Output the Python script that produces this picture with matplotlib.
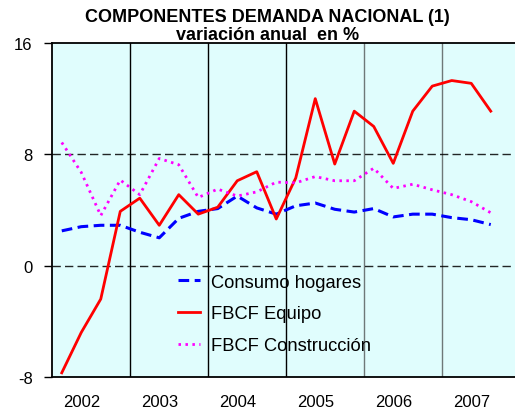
import matplotlib
matplotlib.use("Agg")
import matplotlib.pyplot as plt

plt.rcParams['font.family'] = ['Liberation Sans', 'DejaVu Sans']

# quarterly data, 2002Q1 .. 2007Q3
years = ['2002', '2003', '2004', '2005', '2006', '2007']
consumo = [2.5, 2.8, 2.9, 2.9, 2.4, 2.0, 3.4, 3.9, 4.1, 5.0, 4.15, 3.7,
           4.3, 4.5, 4.05, 3.85, 4.1, 3.5, 3.7, 3.7, 3.45, 3.3, 2.95]
equipo = [-7.7, -4.8, -2.4, 3.9, 4.85, 2.9, 5.1, 3.7, 4.2, 6.1, 6.75, 3.35,
          6.3, 12.0, 7.3, 11.1, 10.0, 7.35, 11.1, 12.9, 13.3, 13.1, 11.1]
construccion = [8.85, 6.7, 3.6, 6.15, 5.1, 7.7, 7.25, 4.9, 5.5, 5.0, 5.3, 6.0,
                5.95, 6.4, 6.1, 6.1, 7.0, 5.55, 5.85, 5.45, 5.1, 4.6, 3.8]

x = list(range(len(consumo)))

fig = plt.figure(figsize=(5.15, 4.14), dpi=100)
ax = fig.add_axes([0.101, 0.087, 0.9087, 0.8068])
ax.set_facecolor('#e0fdfd')

ax.plot(x, consumo, color='#0000ff', lw=2.2, dashes=(3.5, 1.8), label='Consumo hogares')
ax.plot(x, equipo, color='#ff0000', lw=2.0, label='FBCF Equipo')
ax.plot(x, construccion, color='#ff00ff', lw=2.0, linestyle=(0, (0.9, 1.6)),
        label='FBCF Construcción')

ax.set_xlim(-0.5, 23.5)
ax.set_ylim(-8, 16)

# year separators
for k in range(1, 6):
    c = 'black' if k <= 3 else '#6e7878'
    ax.axvline(4 * k - 0.5, color=c, lw=1.0, zorder=1)
for v in (0, 8):
    ax.axhline(v, color='black', lw=1.0, dashes=(6, 3), zorder=1, alpha=0.85)

ax.set_yticks([-8, 0, 8, 16])
ax.set_yticklabels(['-8', '0', '8', '16'], fontsize=12)
ax.set_xticks([1 + 4 * k for k in range(len(years))])
ax.set_xticklabels(years, fontsize=12)
ax.tick_params(axis='x', length=0, pad=12)
ax.tick_params(axis='y', length=6, width=1, pad=8)

for s in ('left', 'bottom', 'top'):
    ax.spines[s].set_linewidth(1.3)
ax.spines['right'].set_visible(False)

fig.text(0.519, 0.957, 'COMPONENTES DEMANDA NACIONAL (1)', ha='center', va='center',
         fontsize=13, fontweight='bold')
fig.text(0.519, 0.914, 'variación anual  en %', ha='center', va='center',
         fontsize=13, fontweight='bold')

ax.legend(loc='upper left', bbox_to_anchor=(0.269, 0.309), frameon=False,
          fontsize=13.2, handlelength=1.2, handletextpad=0.6, labelspacing=0.8,
          borderpad=0, borderaxespad=0)

fig.savefig('out.png', dpi=100)
